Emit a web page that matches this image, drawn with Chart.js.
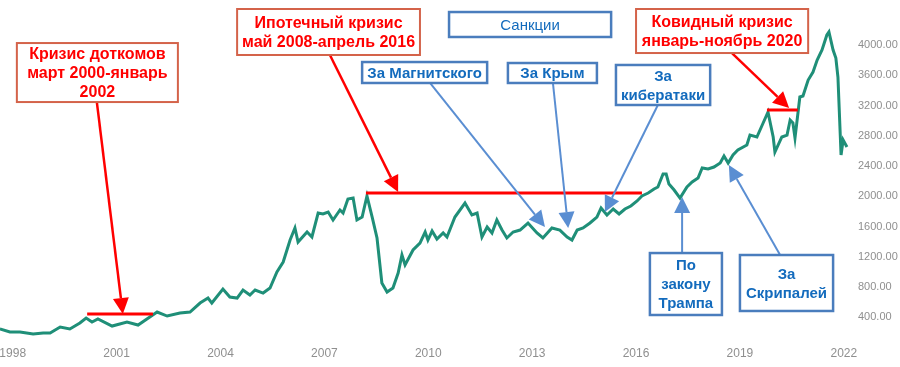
<!DOCTYPE html>
<html><head><meta charset="utf-8">
<script src="https://cdn.jsdelivr.net/npm/chart.js@4/dist/chart.umd.min.js"></script>
<style>html,body{margin:0;padding:0;background:#fff;}#wrap{width:900px;height:367px;position:relative;}</style>
</head><body><div id="wrap"><canvas id="c"></canvas></div>
<script>
// ---- data ----
const years = [1997.63,1997.92,1998.21,1998.59,1998.88,1999.08,1999.37,1999.65,1999.94,2000.12,2000.29,2000.46,2000.87,2001.30,2001.62,2001.96,2002.17,2002.46,2002.83,2003.12,2003.41,2003.64,2003.75,2004.07,2004.27,2004.48,2004.65,2004.85,2005.00,2005.23,2005.43,2005.63,2005.81,2006.01,2006.15,2006.24,2006.50,2006.64,2006.82,2006.96,2007.11,2007.25,2007.45,2007.54,2007.68,2007.83,2007.94,2008.09,2008.23,2008.38,2008.52,2008.66,2008.81,2008.98,2009.13,2009.24,2009.33,2009.56,2009.76,2009.91,2009.99,2010.11,2010.25,2010.43,2010.54,2010.77,2011.06,2011.26,2011.41,2011.55,2011.70,2011.84,2011.98,2012.13,2012.27,2012.45,2012.65,2012.88,2013.14,2013.31,2013.57,2013.80,2014.01,2014.15,2014.30,2014.47,2014.67,2014.87,2014.99,2015.16,2015.34,2015.51,2015.68,2015.85,2016.03,2016.17,2016.35,2016.52,2016.63,2016.78,2016.87,2016.95,2017.10,2017.27,2017.47,2017.62,2017.79,2017.91,2018.08,2018.25,2018.43,2018.54,2018.66,2018.80,2018.94,2019.20,2019.29,2019.49,2019.67,2019.81,2019.96,2020.01,2020.21,2020.36,2020.45,2020.53,2020.59,2020.73,2020.82,2020.97,2021.11,2021.23,2021.37,2021.51,2021.57,2021.69,2021.77,2021.83,2021.92,2021.98,2022.09];
const values = [246,206,206,179,193,193,272,246,325,391,338,378,285,338,298,404,470,417,457,470,589,655,589,774,669,655,761,695,761,721,788,999,1131,1422,1581,1396,1528,1462,1779,1766,1792,1687,1819,1779,1964,1977,1687,1726,2004,1726,1449,854,735,788,986,1224,1092,1290,1382,1528,1422,1541,1435,1515,1462,1726,1911,1753,1779,1462,1594,1515,1687,1554,1449,1528,1554,1647,1515,1449,1581,1554,1462,1422,1554,1581,1647,1726,1845,1753,1832,1766,1832,1872,1938,2004,2043,2096,2123,2295,2295,2162,2083,1977,2123,2189,2242,2374,2361,2387,2440,2533,2440,2546,2612,2678,2810,2784,2969,3114,2784,2585,2784,2810,3008,2969,2770,3313,3326,3537,3643,3802,3934,4132,4172,3934,3828,3577,2546,2744,2652];
const xTickLabels = [1998,2001,2004,2007,2010,2013,2016,2019,2022];
const yTickLabels = [400,800,1200,1600,2000,2400,2800,3200,3600,4000];

// crisis periods (start year, end year, level)
const crisisStart = [2000.15, 2008.20, 2019.78];
const crisisEnd   = [2002.05, 2016.17, 2020.67];
const crisisLevel = [444, 2043, 3141];

// annotation texts
const redNotes = [
  ["Кризис доткомов","март 2000-январь","2002"],
  ["Ипотечный кризис","май 2008-апрель 2016"],
  ["Ковидный кризис","январь-ноябрь 2020"]
];
const blueNotes = [
  ["Санкции"],
  ["За Магнитского"],
  ["За Крым"],
  ["За","кибератаки"],
  ["По","закону","Трампа"],
  ["За","Скрипалей"]
];

// ---- layout of annotations, in axis units ----
const redLayout = [
  {box:[1998.12,2002.77,4026,3246], from:[2000.43,3246], to:[2001.18,444]},
  {box:[2004.48,2009.76,4476,3868], from:[2007.16,3868], to:[2009.13,2057]},
  {box:[2016.00,2020.97,4476,3894], from:[2018.77,3894], to:[2020.42,3167]}
];
const blueLayout = [
  {box:[2010.60,2015.28,4436,4106], bold:false},
  {box:[2008.09,2011.70,3775,3498], from:[2010.05,3498], to:[2013.37,1594], bold:true},
  {box:[2012.30,2014.87,3762,3498], from:[2013.60,3498], to:[2014.04,1581], bold:true},
  {box:[2015.42,2018.14,3736,3207], from:[2016.63,3207], to:[2015.10,1792], bold:true},
  {box:[2016.40,2018.48,1250,431],  from:[2017.33,1250], to:[2017.33,1991], bold:true},
  {box:[2019.00,2021.69,1224,484],  from:[2020.16,1224], to:[2018.68,2414], bold:true}
];

const RED='#ff0000', RED_BORDER='#d4634a', BLUE_TEXT='#136bbd', BLUE_BORDER='#4a7dbd', BLUE_ARROW='#5a8ed2';

function arrow(ctx, x1,y1,x2,y2,color,w,hl,hw){
  const a=Math.atan2(y2-y1,x2-x1);
  const bx=x2-hl*Math.cos(a), by=y2-hl*Math.sin(a);
  ctx.strokeStyle=color; ctx.lineWidth=w; ctx.lineCap='butt';
  ctx.beginPath(); ctx.moveTo(x1,y1); ctx.lineTo(bx,by); ctx.stroke();
  ctx.fillStyle=color;
  ctx.beginPath();
  ctx.moveTo(x2,y2);
  ctx.lineTo(bx+hw*Math.sin(a), by-hw*Math.cos(a));
  ctx.lineTo(bx-hw*Math.sin(a), by+hw*Math.cos(a));
  ctx.closePath(); ctx.fill();
}
function box(ctx,X,Y,b,lines,border,bw,color,font,lh){
  const x0=X(b[0]), x1=X(b[1]), y0=Y(b[2]), y1=Y(b[3]);
  ctx.fillStyle='#fff'; ctx.fillRect(x0,y0,x1-x0,y1-y0);
  ctx.strokeStyle=border; ctx.lineWidth=bw; ctx.strokeRect(x0,y0,x1-x0,y1-y0);
  ctx.fillStyle=color; ctx.font=font; ctx.textAlign='center'; ctx.textBaseline='middle';
  const cx=(x0+x1)/2, cy=(y0+y1)/2;
  lines.forEach((t,i)=>ctx.fillText(t,cx,cy+(i-(lines.length-1)/2)*lh+1));
}

const annotPlugin = {
  id:'annot',
  afterDraw(chart){
    const ctx=chart.ctx, xs=chart.scales.x, ys=chart.scales.y;
    const X=v=>xs.getPixelForValue(v), Y=v=>ys.getPixelForValue(v);
    ctx.save();
    ctx.strokeStyle=RED; ctx.lineWidth=3;
    crisisStart.forEach((s,i)=>{
      ctx.beginPath(); ctx.moveTo(X(s),Y(crisisLevel[i])); ctx.lineTo(X(crisisEnd[i]),Y(crisisLevel[i])); ctx.stroke();
    });
    redLayout.forEach(l=>arrow(ctx,X(l.from[0]),Y(l.from[1]),X(l.to[0]),Y(l.to[1]),RED,2.5,16,8));
    blueLayout.forEach(l=>{ if(l.from) arrow(ctx,X(l.from[0]),Y(l.from[1]),X(l.to[0]),Y(l.to[1]),BLUE_ARROW,2,16,8); });
    redLayout.forEach((l,i)=>box(ctx,X,Y,l.box,redNotes[i],RED_BORDER,2,RED,'bold 16px "Liberation Sans", Arial, sans-serif',19));
    blueLayout.forEach((l,i)=>box(ctx,X,Y,l.box,blueNotes[i],BLUE_BORDER,2.5,BLUE_TEXT,(l.bold?'bold ':'')+'15px "Liberation Sans", Arial, sans-serif',19));
    ctx.restore();
  }
};

const tickFont = {family:'"Liberation Sans", Arial, sans-serif'};
new Chart(document.getElementById('c'), {
  type:'line',
  data:{ datasets:[{
    data: years.map((y,i)=>({x:y, y:values[i]})),
    borderColor:'#1f8f78', borderWidth:3, pointRadius:0, tension:0, fill:false
  }]},
  options:{
    responsive:true, maintainAspectRatio:false, animation:false, devicePixelRatio:1,
    layout:{padding:{top:0,left:0,right:0,bottom:0}},
    plugins:{legend:{display:false}, tooltip:{enabled:false}},
    scales:{
      x:{ type:'linear', min:1997.633, max:2022.236,
        grid:{display:false, drawTicks:false}, border:{display:false},
        afterBuildTicks:s=>{ s.ticks = xTickLabels.map(v=>({value:v})); },
        afterFit:s=>{ s.height=25; s.paddingLeft=0; s.paddingRight=0; },
        ticks:{ autoSkip:false, maxRotation:0, padding:4, color:'#8f8f8f', font:{...tickFont,size:12}, callback:v=>String(v) }
      },
      y:{ type:'linear', position:'right', min:74, max:4595,
        grid:{display:false, drawTicks:false}, border:{display:false},
        afterBuildTicks:s=>{ s.ticks = yTickLabels.map(v=>({value:v})); },
        afterFit:s=>{ s.width=48; s.paddingTop=0; s.paddingBottom=0; },
        ticks:{ padding:6, color:'#8f8f8f', font:{...tickFont,size:11}, callback:v=>Number(v).toFixed(2) }
      }
    }
  },
  plugins:[annotPlugin]
});
</script></body></html>
